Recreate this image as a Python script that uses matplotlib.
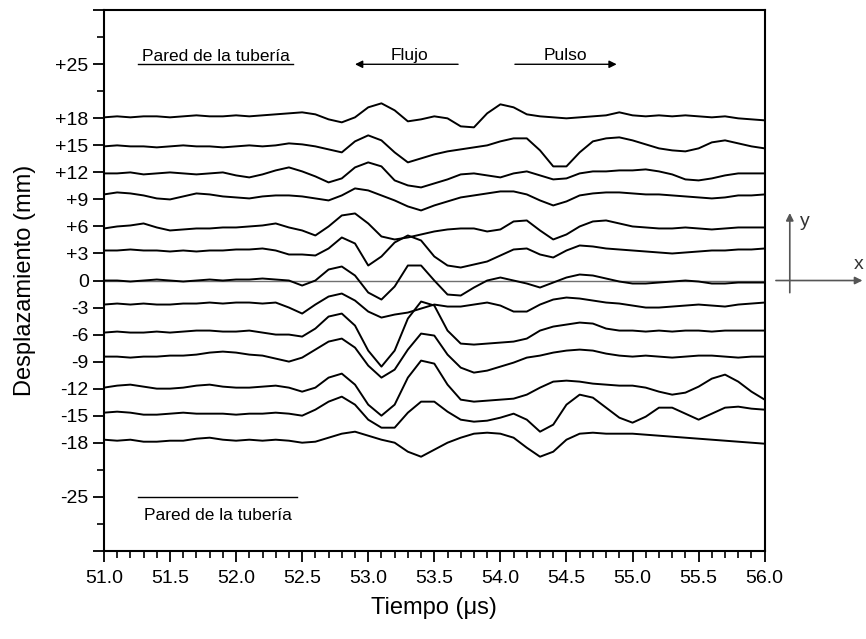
import numpy as np
import matplotlib
matplotlib.use("Agg")
import matplotlib.pyplot as plt
from matplotlib.ticker import MultipleLocator, FixedLocator
import matplotlib.transforms as mtransforms

plt.rcParams['font.family'] = ['Liberation Sans', 'DejaVu Sans']

# tiempo en microsegundos, una muestra cada 0.1 us
tiempo = np.round(np.arange(51.0, 56.0001, 0.1), 1)

etiquetas = ['+18', '+15', '+12', '+9', '+6', '+3', '0',
             '-3', '-6', '-9', '-12', '-15', '-18']
niveles = [16, 15, 14, 13, 12, 11, 10, 9, 8, 7, 6, 5, 4]

# señales (unidades arbitrarias, sin la linea base)
s_p18 = [1, 2, 1, 2, 2, 1, 2, 3, 2, 2, 3, 2, 3, 4, 5, 6, 4, -1, -4, 1,
         11, 15, 8, -3, -1, 2, 0, -8, -9, 5, 14, 11, 4, 2, 1, 0, 1, 2, 3, 6,
         3, 2, 3, 2, 3, 2, 1, 2, 0, -1, -2]
s_p15 = [-1, 0, -1, -1, -2, -1, 0, -1, -1, -2, -1, 0, -1, 0, 2, 1, -1, -4, -7, 4,
         10, 5, -7, -17, -13, -9, -6, -4, -2, 0, 4, 7, 7, -5, -21, -21, -7, 4, 7, 8,
         5, 1, -3, -5, -6, -3, 3, 5, 2, -1, -3]
s_p12 = [-1, -1, 0, -2, -1, 0, -1, -2, -1, 0, -3, -5, -2, 2, 5, 1, -4, -10, -6, 5,
         10, 6, -8, -13, -15, -11, -7, -2, -1, -3, -5, -1, 1, -3, -7, -6, -1, 1, 1, 2,
         2, 3, 1, -2, -7, -8, -6, -3, -1, -1, -1]
s_p9 = [5, 7, 6, 4, 1, 0, 3, 6, 5, 3, 2, 1, 3, 4, 4, 3, 1, -1, 4, 11,
        9, 4, -1, -7, -11, -6, -2, 2, 4, 6, 8, 8, 5, -1, -6, -2, 4, 6, 7, 7,
        6, 5, 5, 4, 3, 2, 1, 2, 4, 4, 5]
s_p6 = [-2, 0, 1, 3, -1, -4, -3, -2, -2, -1, -1, 0, 1, 3, -1, -4, -9, 0, 11, 13,
        3, -10, -13, -11, -8, -5, -3, -2, -2, -5, -3, 5, 6, -4, -13, -8, 0, 5, 6, 3,
        0, -1, -2, -2, -1, -2, -3, -2, -1, -1, -1]
s_p3 = [3, 3, 4, 3, 3, 2, 3, 2, 3, 3, 4, 4, 5, 3, -1, -1, -2, 5, 16, 10,
        -12, -3, 11, 18, 13, -3, -12, -14, -11, -8, -2, 4, 5, -1, -4, 3, 8, 7, 5, 4,
        3, 2, 1, 0, 1, 2, 3, 3, 4, 4, 5]
s_0 = [0, 0, -1, 0, 1, 0, -1, 0, 1, 0, 1, 1, 2, 1, 0, -5, 0, 11, 14, 5,
       -12, -19, -6, 15, 15, 0, -14, -15, -7, 0, 3, 0, -3, -7, -2, 3, 6, 5, 2, -1,
       -3, -3, -2, -1, 0, -1, -3, -3, -2, -2, -2]
s_m3 = [3, 4, 3, 4, 3, 3, 4, 4, 5, 4, 5, 5, 4, 5, 0, -6, 3, 11, 14, 7,
        -4, -10, -7, -5, -1, 3, 1, 1, 3, 5, 2, -4, -4, 3, 8, 10, 9, 7, 5, 4,
        2, 0, 0, 1, 2, 3, 2, 1, 3, 4, 5]
s_m6 = [2, 3, 2, 2, 3, 2, 3, 4, 4, 3, 3, 4, 2, 0, 0, -2, 6, 18, 21, 9,
        -16, -32, -16, 16, 33, 29, 4, -9, -10, -9, -8, -7, -4, 4, 8, 10, 12, 11, 6, 4,
        4, 3, 4, 3, 4, 4, 3, 4, 4, 4, 4]
s_m9 = [5, 5, 4, 5, 5, 6, 6, 7, 9, 10, 9, 7, 6, 3, 0, 4, 12, 20, 23, 14,
        -4, -16, -8, 12, 28, 26, 7, -6, -11, -9, -5, -1, 4, 6, 9, 11, 12, 11, 8, 6,
        5, 6, 5, 4, 5, 6, 6, 5, 4, 5, 5]
s_m12 = [1, 3, 4, 2, 0, 0, 1, 3, 4, 2, 1, 1, 2, 3, 1, -3, 1, 11, 15, 4,
         -16, -27, -16, 11, 28, 25, 4, -11, -13, -12, -11, -10, -6, 1, 7, 8, 7, 5, 4, 3,
         3, 1, -3, -6, -4, 2, 10, 14, 7, -3, -11]
s_m15 = [3, 4, 3, 1, 1, 2, 3, 2, 2, 2, 1, 2, 2, 3, 2, 0, 6, 14, 19, 11,
         -4, -12, -12, 3, 14, 14, 4, -4, -6, -5, -2, 2, -4, -16, -9, 11, 21, 18, 8, -2,
         -7, -1, 8, 8, 2, -4, 2, 8, 9, 7, 6]
s_m18 = [3, 2, 3, 1, 1, 2, 2, 4, 5, 3, 2, 3, 2, 3, 2, 0, 1, 5, 9, 11,
         7, 3, 0, -9, -14, -7, 0, 5, 9, 10, 9, 5, -5, -14, -9, 3, 9, 10, 9, 9,
         9, 8, 7, 6, 5, 4, 3, 2, 1, 0, -1]

senales = [s_p18, s_p15, s_p12, s_p9, s_p6, s_p3, s_0,
           s_m3, s_m6, s_m9, s_m12, s_m15, s_m18]
ganancia = 1 / 27.0  # separación entre trazas en unidades de señal

fig = plt.figure(figsize=(8.66, 6.39), dpi=100)
ax = fig.add_axes([0.120, 0.138, 0.763, 0.846])

ax.axhline(10, color='#707070', lw=1.0, zorder=1)
for nivel, s in zip(niveles, senales):
    ax.plot(tiempo, nivel + np.array(s) * ganancia, color='black', lw=1.4,
            solid_joinstyle='round', zorder=2)

ax.set_xlim(51, 56)
ax.set_ylim(0, 20)

ax.xaxis.set_minor_locator(MultipleLocator(0.1))
ax.set_xticks(np.arange(51.0, 56.01, 0.5))
ax.set_xticklabels(['%.1f' % v for v in np.arange(51.0, 56.01, 0.5)])

ticks_y = [0, 2] + niveles[::-1] + [18, 20]
etiq_y = ['', '-25'] + etiquetas[::-1] + ['+25', '']
ax.set_yticks(ticks_y)
ax.set_yticklabels(etiq_y)
ax.yaxis.set_minor_locator(FixedLocator([1, 3, 17, 19]))

ax.tick_params(which='major', direction='out', length=8, width=1.3, labelsize=14, pad=3)
ax.tick_params(which='minor', direction='out', length=5, width=1.2)
ax.tick_params(axis='x', pad=6)
for sp in ax.spines.values():
    sp.set_linewidth(1.5)

ax.set_xlabel('Tiempo (\u03bcs)', fontsize=17, labelpad=7)
ax.set_ylabel('Desplazamiento (mm)', fontsize=17, labelpad=14)

# paredes de la tuberia
ax.plot([51.26, 52.43], [18, 18], color='black', lw=1.0)
ax.text(51.85, 18.3, 'Pared de la tuber\u00eda', ha='center', va='center', fontsize=12.5)
ax.plot([51.26, 52.46], [2, 2], color='black', lw=1.0)
ax.text(51.86, 1.3, 'Pared de la tuber\u00eda', ha='center', va='center', fontsize=12.5)

# flechas de flujo y pulso
flecha = dict(arrowstyle='-|>', color='black', lw=1.0, mutation_scale=11, shrinkA=0, shrinkB=0)
ax.annotate('', xy=(52.90, 18), xytext=(53.68, 18), arrowprops=flecha)
ax.text(53.31, 18.33, 'Flujo', ha='center', va='center', fontsize=12.5)
ax.annotate('', xy=(54.88, 18), xytext=(54.11, 18), arrowprops=flecha)
ax.text(54.49, 18.33, 'Pulso', ha='center', va='center', fontsize=12.5)

# ejes de referencia x-y a la derecha
tr = mtransforms.blended_transform_factory(ax.transAxes, ax.transData)
gris = dict(arrowstyle='-|>', color='#555555', lw=1.2, mutation_scale=11, shrinkA=0, shrinkB=0)
ax.annotate('', xy=(1.038, 12.5), xytext=(1.038, 9.55), xycoords=tr, textcoords=tr,
            arrowprops=gris, annotation_clip=False)
ax.annotate('', xy=(1.148, 10), xytext=(1.017, 10), xycoords=tr, textcoords=tr,
            arrowprops=gris, annotation_clip=False)
ax.text(1.053, 12.2, 'y', transform=tr, fontsize=14, ha='left', va='center', color='#333333')
ax.text(1.135, 10.6, 'x', transform=tr, fontsize=14, ha='left', va='center', color='#333333')

fig.savefig('out.png', dpi=100)
